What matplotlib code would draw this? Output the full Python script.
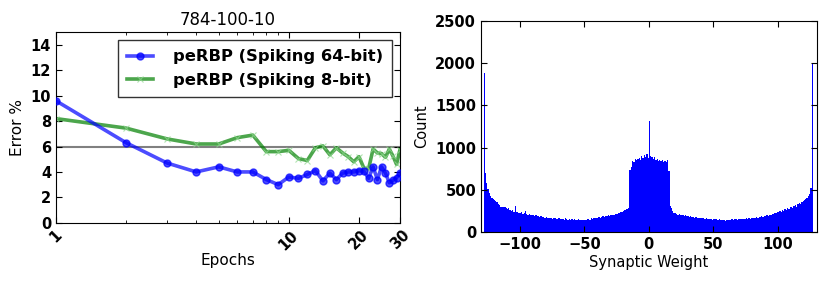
import numpy as np
import matplotlib; matplotlib.use("Agg")
import matplotlib.pyplot as plt
from matplotlib.ticker import FixedLocator, NullFormatter

# left panel: test error vs epoch (784-100-10)
epochs = list(range(1, 31))
err_64bit = [9.6, 6.3, 4.7, 4.0, 4.4, 4.0, 4.0, 3.4, 3.0, 3.6,
             3.5, 3.8, 4.1, 3.3, 3.9, 3.4, 3.9, 4.0, 4.0, 4.1,
             4.05, 3.5, 4.4, 3.4, 4.4, 3.9, 3.15, 3.35, 3.55, 3.9]
err_8bit = [8.2, 7.45, 6.6, 6.2, 6.2, 6.7, 6.9, 5.6, 5.6, 5.7,
            5.05, 4.9, 5.9, 6.05, 5.35, 5.9, 5.5, 5.2, 4.8, 5.2,
            4.3, 4.25, 5.8, 5.5, 5.45, 5.15, 5.8, 5.25, 4.6, 5.75]
ref_error = 6.0
xtick_vals = [1, 10, 20, 30]

# right panel: histogram of 8-bit synaptic weights, one bin per integer -128..126 (last bin 126..127)
w_lo, w_hi = -128, 127
counts = [1880, 700, 580, 510, 470, 430, 400, 390, 385, 375,
          355, 340, 325, 300, 305, 295, 300, 285, 270, 290,
          265, 250, 260, 245, 310, 240, 235, 225, 230, 240,
          220, 225, 250, 215, 205, 220, 210, 200, 205, 195,
          200, 190, 195, 185, 190, 180, 185, 175, 180, 170,
          175, 165, 170, 160, 165, 170, 160, 155, 165, 160,
          155, 160, 150, 165, 155, 150, 160, 150, 155, 150,
          155, 145, 150, 155, 145, 150, 145, 150, 140, 150,
          155, 160, 150, 165, 160, 170, 165, 175, 170, 180,
          175, 185, 190, 180, 195, 190, 200, 195, 205, 200,
          210, 205, 220, 215, 230, 225, 240, 245, 255, 260,
          270, 280, 290, 740, 770, 845, 830, 865, 850, 870,
          880, 860, 900, 875, 910, 885, 920, 880, 1310, 905,
          890, 870, 885, 860, 870, 845, 855, 840, 850, 835,
          845, 830, 850, 720, 315, 290, 250, 225, 230, 215,
          210, 220, 205, 200, 210, 195, 200, 190, 195, 185,
          190, 180, 185, 175, 180, 170, 175, 168, 172, 165,
          170, 160, 165, 158, 162, 155, 160, 150, 158, 152,
          155, 148, 152, 145, 150, 148, 140, 132, 148, 150,
          145, 150, 155, 148, 152, 158, 150, 155, 160, 152,
          158, 162, 155, 165, 160, 168, 162, 170, 175, 168,
          175, 180, 172, 185, 178, 190, 185, 195, 188, 200,
          195, 210, 205, 220, 215, 230, 225, 240, 235, 250,
          245, 260, 255, 275, 265, 285, 280, 295, 300, 290,
          310, 320, 305, 330, 345, 335, 355, 365, 380, 395,
          410, 430, 450, 520, 2000]
edges = np.linspace(w_lo, w_hi, len(counts) + 1)

fig = plt.figure(figsize=(8.31, 2.83), dpi=100)
ax1 = fig.add_axes([0.0674, 0.213, 0.4139, 0.673])
ax2 = fig.add_axes([0.5788, 0.179, 0.4040, 0.748])

def style(ax):
    ax.tick_params(which="both", direction="in", top=True, right=True, labelsize=10.5)
    ax.tick_params(which="major", length=4)
    ax.tick_params(which="minor", length=2)
    for lab in ax.get_xticklabels() + ax.get_yticklabels():
        lab.set_fontweight("bold")

ax1.axhline(ref_error, color="gray", lw=1.5, zorder=1)
ax1.plot(epochs, err_64bit, "o-", color="b", lw=2.6, ms=5, alpha=0.7, mec="b",
         label="peRBP (Spiking 64-bit)", zorder=3)
ax1.plot(epochs, err_8bit, "x-", color="g", lw=2.6, ms=4.5, mew=0.8, alpha=0.7,
         mec="#8fd88f", label="peRBP (Spiking 8-bit)", zorder=2)
ax1.set_xscale("log")
ax1.set_xlim(1, 30)
ax1.set_ylim(0, 15)
ax1.set_yticks(range(0, 15, 2))
ax1.xaxis.set_major_locator(FixedLocator(xtick_vals))
ax1.set_xticklabels([str(v) for v in xtick_vals], rotation=45)
ax1.xaxis.set_minor_locator(FixedLocator([2, 3, 4, 5, 6, 7, 8, 9]))
ax1.xaxis.set_minor_formatter(NullFormatter())
ax1.set_title("784-100-10", fontsize=12, pad=5)
ax1.set_xlabel("Epochs", fontsize=11, labelpad=0)
ax1.set_ylabel("Error %", fontsize=11)
leg = ax1.legend(loc="upper right", prop={"weight": "bold", "size": 11.8},
                 fancybox=False, edgecolor="black", borderaxespad=0.5,
                 borderpad=0.55, handlelength=1.6, handletextpad=1.2,
                 labelspacing=0.5)
leg.get_frame().set_linewidth(1.0)
style(ax1)

ax2.stairs(counts, edges, fill=True, color="blue", lw=0)
ax2.set_xlim(-130, 130)
ax2.set_ylim(0, 2500)
ax2.set_xticks([-100, -50, 0, 50, 100])
ax2.set_yticks(range(0, 2501, 500))
ax2.set_xlabel("Synaptic Weight", fontsize=10.5, labelpad=2)
ax2.set_ylabel("Count", fontsize=10.5)
style(ax2)

fig.savefig("out.png", dpi=100)
